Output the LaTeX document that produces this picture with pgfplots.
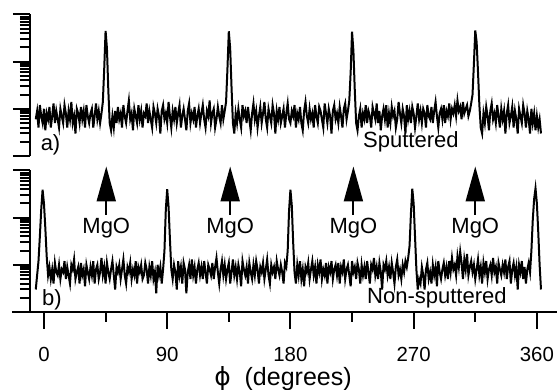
\documentclass[border=0pt]{standalone}
\usepackage{fontspec}
\setmainfont{Liberation Sans}
\newfontfamily\dejavu{DejaVu Sans}
\usepackage{pgfplots}
\usepackage{pgfplotstable}
\pgfplotsset{compat=1.18}
\usetikzlibrary{arrows.meta}

% phi = row index - 6 (degrees)
\pgfplotstableread[row sep=\\]{
y\\
6\\9\\4\\12\\7\\5\\10\\3.5\\8\\6\\11\\4\\7\\13\\5\\9\\6\\4\\10\\7\\
5\\12\\8\\4\\9\\6\\14\\5\\7\\3\\10\\8\\5\\11\\6\\9\\4\\12\\7\\5\\
8\\10\\4\\7\\13\\6\\9\\5\\8\\14\\70\\450\\190\\25\\5\\3.5\\7\\4\\9\\5\\
11\\6\\8\\4\\12\\7\\5\\9\\15\\6\\8\\3.5\\10\\7\\5\\12\\6\\9\\4\\8\\
7\\13\\5\\9\\6\\4\\11\\8\\5\\10\\7\\3\\9\\12\\6\\8\\5\\14\\7\\4\\
9\\6\\11\\5\\8\\12\\4\\7\\10\\6\\3.5\\9\\13\\5\\8\\6\\11\\4\\7\\10\\
5\\8\\12\\6\\4\\9\\7\\15\\5\\8\\10\\4\\6\\11\\7\\5\\12\\6\\9\\14\\
70\\440\\190\\28\\5\\3\\8\\5\\10\\6\\4\\12\\7\\9\\5\\11\\6\\3.5\\8\\13\\
6\\9\\4\\7\\11\\5\\8\\14\\6\\4\\10\\7\\5\\12\\8\\3\\9\\6\\11\\5\\
7\\10\\4\\8\\13\\6\\5\\9\\7\\12\\4\\8\\6\\11\\5\\3.5\\9\\14\\7\\5\\
10\\6\\8\\4\\12\\7\\5\\11\\9\\6\\4\\13\\8\\5\\10\\7\\3\\9\\12\\6\\
8\\5\\11\\7\\4\\10\\13\\6\\9\\15\\60\\430\\170\\25\\5\\3.5\\7\\10\\4\\8\\
6\\12\\5\\9\\7\\4\\11\\8\\6\\13\\5\\9\\3.5\\7\\10\\6\\12\\4\\8\\5\\
11\\7\\9\\4\\6\\14\\8\\5\\10\\7\\3\\12\\6\\9\\5\\11\\8\\4\\7\\13\\
6\\9\\5\\10\\8\\4\\12\\7\\6\\11\\5\\9\\14\\7\\4\\8\\10\\6\\12\\5\\
9\\7\\13\\6\\10\\8\\12\\7\\15\\9\\11\\6\\14\\8\\10\\12\\7\\9\\13\\20\\
90\\460\\260\\60\\12\\4\\3\\8\\5\\11\\7\\3.5\\9\\13\\6\\8\\5\\12\\7\\4\\
10\\6\\9\\3\\8\\12\\5\\7\\11\\4\\9\\6\\3\\10\\7\\5\\12\\8\\4\\9\\
6\\3\\10\\5\\8\\3.5\\7\\4\\6\\3\\
}\sputtered

\pgfplotstableread[row sep=\\]{
y\\
3\\6\\12\\40\\150\\390\\200\\60\\15\\6\\9\\5\\8\\4\\11\\7\\6\\10\\5\\8\\
7\\12\\5\\9\\6\\4\\10\\8\\13\\5\\7\\9\\4\\11\\6\\8\\3.5\\10\\7\\5\\
9\\6\\12\\4\\8\\10\\5\\7\\14\\6\\9\\4\\11\\7\\5\\8\\12\\6\\3\\9\\
7\\10\\5\\8\\13\\6\\4\\9\\7\\11\\5\\8\\6\\12\\4\\9\\7\\10\\5\\6\\
11\\8\\4\\9\\6\\12\\5\\7\\2.5\\10\\6\\9\\4\\8\\20\\150\\400\\170\\35\\8\\
5\\10\\7\\3\\12\\6\\9\\4\\11\\8\\2.5\\7\\10\\5\\13\\6\\9\\4\\8\\11\\
6\\9\\5\\12\\7\\4\\10\\8\\6\\11\\5\\9\\14\\7\\4\\8\\12\\6\\10\\5\\
8\\11\\4\\7\\13\\6\\9\\5\\10\\7\\3.5\\12\\8\\6\\9\\4\\11\\7\\5\\10\\
6\\12\\8\\4\\9\\7\\11\\5\\8\\13\\6\\4\\10\\7\\9\\5\\12\\8\\6\\10\\
7\\4\\11\\9\\20\\140\\390\\180\\30\\7\\4\\10\\6\\12\\5\\8\\3.5\\9\\7\\11\\
5\\8\\12\\6\\9\\4\\10\\7\\13\\5\\8\\6\\11\\4\\9\\7\\12\\5\\8\\10\\
6\\11\\4\\9\\7\\13\\5\\8\\10\\6\\3.5\\12\\7\\9\\5\\11\\8\\4\\10\\6\\
9\\5\\12\\7\\4\\10\\8\\14\\6\\9\\5\\11\\7\\3\\10\\8\\12\\6\\9\\5\\
11\\7\\4\\9\\13\\6\\8\\5\\10\\7\\12\\9\\14\\25\\120\\410\\200\\40\\8\\3\\
5\\4\\9\\6\\3\\8\\11\\5\\7\\4\\10\\6\\9\\3.5\\12\\7\\5\\8\\11\\6\\
9\\5\\12\\7\\14\\8\\10\\6\\15\\9\\19\\11\\5\\13\\8\\17\\6\\9\\12\\7\\
10\\5\\8\\13\\6\\9\\4\\11\\7\\12\\5\\8\\10\\6\\14\\7\\9\\4\\11\\8\\
6\\10\\7\\13\\5\\9\\12\\4\\8\\11\\6\\9\\3\\10\\7\\12\\5\\9\\4\\8\\
11\\7\\20\\90\\250\\420\\200\\50\\10\\3\\
}\nonsputtered

\begin{document}
\begin{tikzpicture}
\path[use as bounding box] (0,0) rectangle (278.5pt,195pt);

% panel a (sputtered)
\begin{axis}[at={(15pt,117pt)}, anchor=south west,
    scale only axis, width=263.5pt, height=70.75pt,
    xmin=-10.2, xmax=374.7,
    ymode=log, ymin=1, ymax=1000,
    axis y line=left, axis x line=none,
    axis line style={-, line width=1.3pt},
    ytick={1,10,100,1000}, yticklabels={},
    tick align=outside,
    major tick length=8.5pt, minor tick length=5pt,
    tick style={black, line width=1pt},
    clip=false]
  \addplot[black, line width=1pt, no marks] table[x expr=\coordindex-6, y=y] {\sputtered};
  \node[anchor=west, font=\fontsize{11}{12}\selectfont] at (axis cs:-7.5,1.71) {a)};
  \node[font=\fontsize{11}{12}\selectfont] at (axis cs:268,1.99) {Sputtered};
\end{axis}

% panel b (non-sputtered)
\begin{axis}[at={(15pt,39pt)}, anchor=south west,
    scale only axis, width=263.5pt, height=70.75pt,
    xmin=-10.2, xmax=374.7,
    ymode=log, ymin=1, ymax=1000,
    axis y line=left, axis x line=bottom,
    axis line style={-, line width=1.3pt},
    ytick={1,10,100,1000}, yticklabels={},
    tick align=outside,
    major tick length=8.5pt, minor tick length=5pt,
    tick style={black, line width=1pt},
    clip=false,
    xtick={0,90,180,270,360}, minor xtick={45,135,225,315},
    /pgf/number format/assume math mode=true,
    xticklabel style={font=\fontsize{10.2}{12}\selectfont, yshift=-5.5pt},
    xlabel={{\dejavu ϕ}\ \ (degrees)},
    xlabel style={font=\fontsize{12.5}{14}\selectfont, at={(axis description cs:0.48,-0.468)}, anchor=center}]
  \addplot[black, line width=1pt, no marks] table[x expr=\coordindex-6, y=y] {\nonsputtered};
  \draw[line width=1.3pt] (axis cs:-23.4,1) -- (axis cs:-10.2,1);
  \node[anchor=west, font=\fontsize{11}{12}\selectfont] at (axis cs:-6.5,1.8) {b)};
  \node[font=\fontsize{11}{12}\selectfont] at (axis cs:287,1.99) {Non-sputtered};
  \draw[line width=1pt, -{Triangle[length=17.5pt,width=9.5pt]}] (axis cs:45.5,116) -- (axis cs:45.5,1217);
  \draw[line width=1pt, -{Triangle[length=17.5pt,width=9.5pt]}] (axis cs:136,116) -- (axis cs:136,1217);
  \draw[line width=1pt, -{Triangle[length=17.5pt,width=9.5pt]}] (axis cs:226,116) -- (axis cs:226,1217);
  \draw[line width=1pt, -{Triangle[length=17.5pt,width=9.5pt]}] (axis cs:315,116) -- (axis cs:315,1217);
  \node[font=\fontsize{11}{12}\selectfont] at (axis cs:45.5,61) {MgO};
  \node[font=\fontsize{11}{12}\selectfont] at (axis cs:136,61) {MgO};
  \node[font=\fontsize{11}{12}\selectfont] at (axis cs:226,61) {MgO};
  \node[font=\fontsize{11}{12}\selectfont] at (axis cs:315,61) {MgO};
\end{axis}
\end{tikzpicture}
\end{document}
